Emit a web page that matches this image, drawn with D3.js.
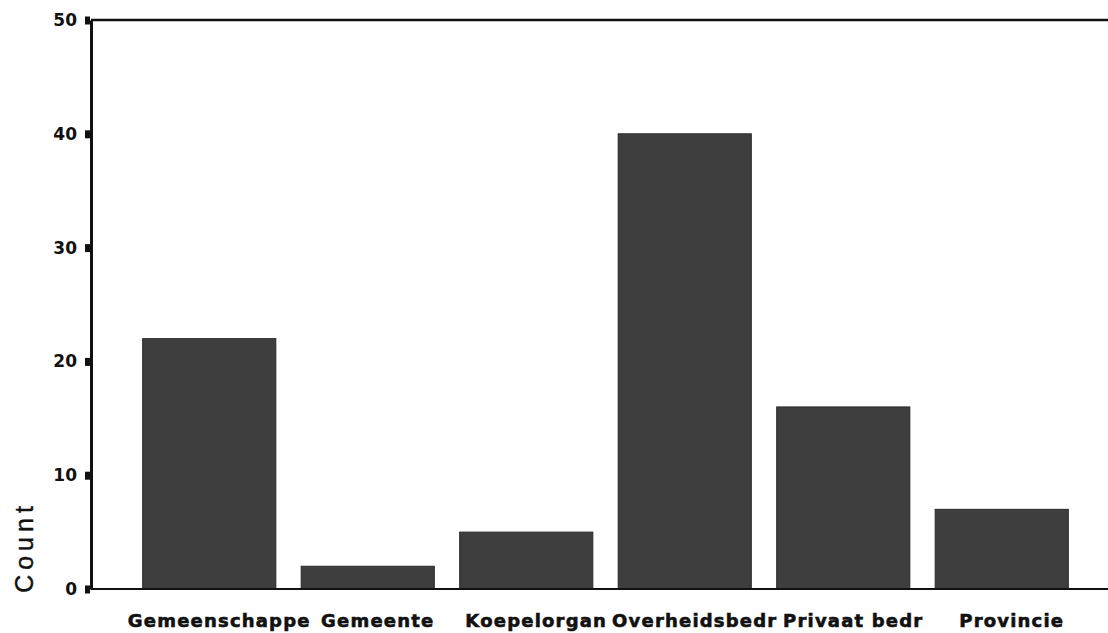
<!DOCTYPE html>
<html>
<head>
<meta charset="utf-8">
<script src="https://cdn.jsdelivr.net/npm/d3@7"></script>
<style>
  body { margin: 0; background: #fff; }
  svg { display: block; }
</style>
</head>
<body>
<div id="chart"></div>
<script>
var categories = ["Gemeenschappe", "Gemeente", "Koepelorgan", "Overheidsbedr", "Privaat bedr", "Provincie"];
var counts = [22, 2, 5, 40, 16, 7];
var yTicks = [0, 10, 20, 30, 40, 50];

var data = categories.map(function (c, i) { return {cat: c, count: counts[i]}; });

var W = 1108, H = 633;
var axisX = 91, plotTop = 20, plotBottom = 589;

var svg = d3.select("#chart").append("svg")
  .attr("width", W)
  .attr("height", H);

var xScale = d3.scaleBand()
  .domain(categories)
  .range([130, 1081])
  .paddingInner(0.16)
  .paddingOuter(0.08);

var yScale = d3.scaleLinear()
  .domain([0, 50])
  .range([plotBottom, plotTop]);

// bars
svg.selectAll(".bar")
  .data(data)
  .enter().append("rect")
  .attr("class", "bar")
  .attr("x", function (d) { return xScale(d.cat); })
  .attr("y", function (d) { return yScale(d.count); })
  .attr("width", xScale.bandwidth())
  .attr("height", function (d) { return plotBottom - yScale(d.count); })
  .attr("fill", "#3e3e3e")
  .attr("stroke", "#2a2a2a")
  .attr("stroke-width", 1);

// frame lines (top and bottom)
svg.append("line")
  .attr("x1", axisX).attr("x2", W)
  .attr("y1", plotTop).attr("y2", plotTop)
  .attr("stroke", "#111").attr("stroke-width", 2.5);
svg.append("line")
  .attr("x1", axisX).attr("x2", W)
  .attr("y1", plotBottom).attr("y2", plotBottom)
  .attr("stroke", "#111").attr("stroke-width", 2);

// y axis
var yAxis = svg.append("g")
  .attr("class", "y axis")
  .attr("transform", "translate(" + axisX + ",0)")
  .call(d3.axisLeft(yScale).tickValues(yTicks).tickSize(0).tickPadding(14));

yAxis.select(".domain")
  .attr("stroke", "#111")
  .attr("stroke-width", 3);

yAxis.selectAll(".tick line").remove();
yAxis.selectAll(".tick").append("rect")
  .attr("x", -6).attr("y", -4)
  .attr("width", 5).attr("height", 8)
  .attr("fill", "#111");

yAxis.selectAll(".tick text")
  .attr("font-family", "DejaVu Sans, sans-serif")
  .attr("font-size", 17)
  .attr("font-weight", "bold")
  .attr("fill", "#111");

// x labels
svg.selectAll(".xlabel")
  .data(data)
  .enter().append("text")
  .attr("class", "xlabel")
  .attr("x", function (d) { return xScale(d.cat) + xScale.bandwidth() / 2 + 10; })
  .attr("y", 627)
  .attr("text-anchor", "middle")
  .attr("font-family", "DejaVu Sans, sans-serif")
  .attr("font-size", 18)
  .attr("font-weight", "bold")
  .attr("letter-spacing", 1.2)
  .attr("fill", "#111")
  .attr("stroke", "#111")
  .attr("stroke-width", 0.6)
  .text(function (d) { return d.cat; });

// y title
svg.append("text")
  .attr("transform", "translate(33,547) rotate(-90)")
  .attr("text-anchor", "middle")
  .attr("font-family", "Liberation Sans, Arial, sans-serif")
  .attr("font-size", 25)
  .attr("letter-spacing", 5)
  .attr("fill", "#111")
  .attr("stroke", "#111")
  .attr("stroke-width", 0.4)
  .text("Count");
</script>
</body>
</html>
